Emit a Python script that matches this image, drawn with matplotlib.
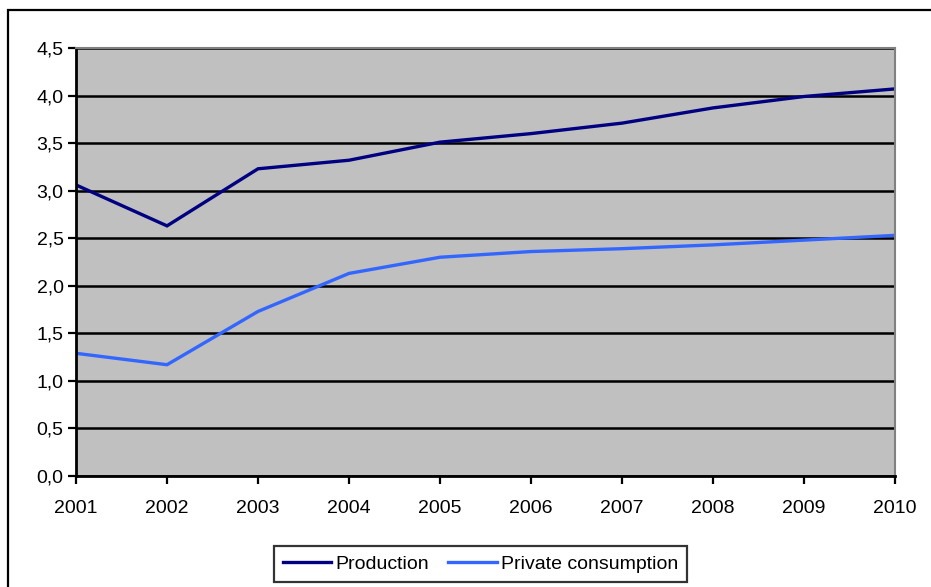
import matplotlib
matplotlib.use("Agg")
import matplotlib.pyplot as plt
from matplotlib.patches import Rectangle
from matplotlib.ticker import FuncFormatter, MultipleLocator

plt.rcParams['font.family'] = ['Liberation Sans', 'DejaVu Sans']

years = [2001, 2002, 2003, 2004, 2005, 2006, 2007, 2008, 2009, 2010]
production = [3.06, 2.63, 3.23, 3.32, 3.51, 3.60, 3.71, 3.87, 3.99, 4.07]
private_consumption = [1.29, 1.17, 1.73, 2.13, 2.30, 2.36, 2.39, 2.43, 2.48, 2.53]

fig = plt.figure(figsize=(9.31, 5.87), dpi=100)
ax = fig.add_axes([76 / 931, 1 - 476 / 587, (895 - 76) / 931, (476 - 48) / 587])
ax.set_facecolor('#C0C0C0')

# outer chart frame (left and top edges visible)
fig.patches.append(Rectangle((8 / 931, -0.2), 1.2, 1 - 10 / 587 + 0.2,
                             transform=fig.transFigure, fill=False,
                             edgecolor='black', linewidth=1.6, zorder=0))

ax.plot(years, production, color='#000080', linewidth=2.4, label='Production',
        solid_joinstyle='miter')
ax.plot(years, private_consumption, color='#3366FF', linewidth=2.4,
        label='Private consumption', solid_joinstyle='miter')

ax.set_xlim(2001, 2010)
ax.set_ylim(0, 4.5)
ax.set_xticks(years)
ax.yaxis.set_major_locator(MultipleLocator(0.5))
ax.yaxis.set_major_formatter(FuncFormatter(lambda v, p: f"{v:.1f}".replace('.', ',')))
ax.grid(axis='y', color='black', linewidth=1.8)
ax.set_axisbelow(True)

for side in ('left', 'bottom'):
    ax.spines[side].set_color('black')
    ax.spines[side].set_linewidth(2)
for side in ('top', 'right'):
    ax.spines[side].set_color('#808080')
    ax.spines[side].set_linewidth(1.5)

ax.tick_params(axis='both', direction='out', length=6, width=1.6,
               labelsize=14, colors='black')
ax.tick_params(axis='x', pad=11)
ax.tick_params(axis='y', pad=3)

leg = fig.legend(loc='center', bbox_to_anchor=(480.5 / 931, 1 - 564 / 587),
                 ncol=2, fontsize=14, frameon=True, fancybox=False,
                 edgecolor='black', handlelength=2.5, handletextpad=0.2,
                 columnspacing=1.0, borderpad=0.45, borderaxespad=0)
leg.get_frame().set_linewidth(1.6)

fig.savefig('out.png', dpi=100)
